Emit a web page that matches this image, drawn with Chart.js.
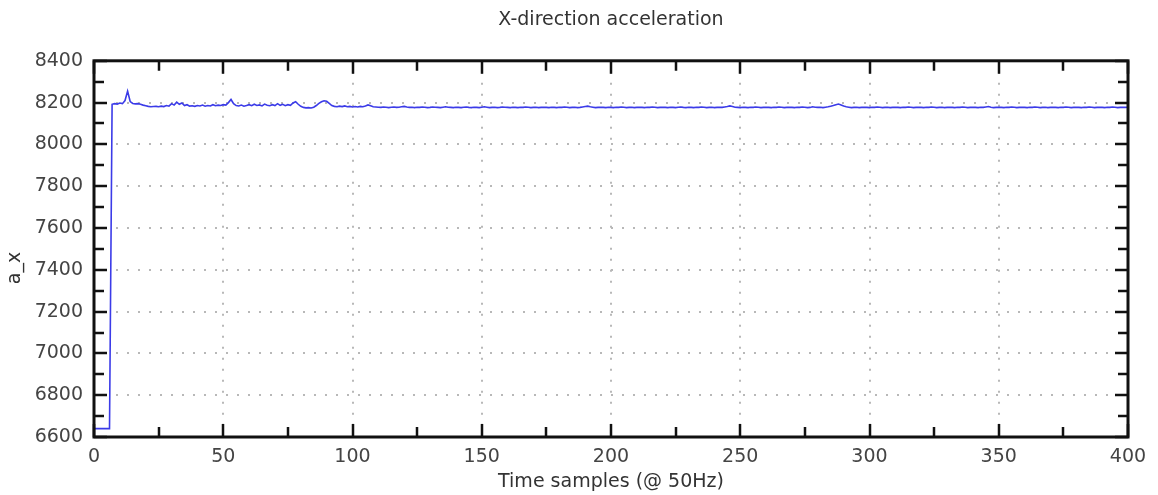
<!DOCTYPE html>
<html><head><meta charset="utf-8">
<script src="https://cdn.jsdelivr.net/npm/chart.js@4/dist/chart.umd.min.js"></script>
<style>html,body{margin:0;padding:0;background:#fff}#wrap{width:1158px;height:495px;position:relative}</style>
</head><body><div id="wrap"><canvas id="c" width="1158" height="495"></canvas></div>
<script>
const titleText = 'X-direction acceleration';
const xTitle = 'Time samples (@ 50Hz)';
const yTitle = 'a_x';
const xTicks = [0, 50, 100, 150, 200, 250, 300, 350, 400];
const yTicks = [6600, 6800, 7000, 7200, 7400, 7600, 7800, 8000, 8200, 8400];
const aX = [
6640,6640,6640,6640,6640,6640,6640,8192,8195,8193,8198,8195,8210,8255,8205,8196,8194,8195,8192,8188,
8185,8182,8180,8181,8182,8180,8183,8181,8186,8183,8195,8188,8202,8192,8198,8186,8190,8183,8185,8182,
8186,8184,8188,8183,8186,8184,8190,8185,8188,8186,8190,8188,8200,8215,8195,8186,8184,8188,8183,8186,
8190,8185,8192,8186,8189,8184,8193,8187,8185,8190,8186,8195,8187,8192,8185,8190,8187,8198,8204,8192,
8182,8177,8175,8176,8174,8178,8186,8196,8204,8209,8206,8196,8186,8182,8180,8183,8181,8184,8180,8182,
8179,8181,8179,8182,8180,8184,8189,8185,8180,8179,8178,8177,8179,8178,8176,8178,8179,8177,8178,8180,
8182,8179,8177,8178,8176,8178,8177,8179,8178,8176,8177,8179,8178,8177,8176,8178,8180,8178,8177,8176,
8178,8177,8176,8178,8179,8177,8176,8178,8177,8176,8178,8180,8178,8176,8177,8178,8176,8177,8179,8178,
8177,8176,8178,8177,8176,8178,8177,8179,8178,8176,8177,8178,8176,8177,8178,8177,8176,8178,8177,8176,
8178,8177,8179,8178,8176,8177,8178,8176,8177,8179,8181,8183,8180,8178,8176,8177,8178,8177,8176,8178,
8177,8176,8178,8177,8179,8178,8176,8177,8178,8176,8177,8178,8177,8176,8178,8177,8179,8178,8176,8177,
8178,8177,8176,8178,8177,8176,8178,8179,8177,8176,8178,8177,8176,8178,8177,8179,8178,8176,8177,8178,
8176,8177,8178,8177,8179,8181,8184,8181,8178,8177,8176,8178,8177,8176,8178,8177,8179,8178,8176,8177,
8178,8177,8176,8178,8177,8179,8178,8176,8177,8178,8177,8176,8178,8177,8179,8178,8176,8177,8180,8178,
8177,8178,8176,8178,8180,8183,8186,8190,8193,8189,8184,8180,8178,8176,8177,8178,8176,8177,8178,8177,
8176,8178,8177,8179,8178,8176,8177,8178,8176,8177,8178,8177,8176,8178,8177,8179,8178,8176,8177,8178,
8177,8176,8178,8177,8179,8178,8176,8177,8178,8176,8177,8178,8177,8176,8178,8177,8179,8178,8176,8177,
8178,8177,8176,8178,8177,8179,8181,8178,8176,8177,8178,8177,8176,8178,8177,8179,8178,8176,8177,8178,
8177,8176,8178,8177,8179,8178,8176,8177,8178,8176,8177,8178,8177,8176,8178,8177,8179,8178,8176,8177,
8178,8177,8176,8178,8177,8179,8178,8176,8177,8178,8177,8176,8178,8177,8179,8178,8176,8177,8178,8177,
8178
];

const FONT = "'DejaVu Sans', Verdana, sans-serif";
const points = aX.map((v, i) => ({x: i, y: v}));

function marks(ticks) {
  const out = [];
  for (let i = 0; i < ticks.length; i++) {
    out.push({v: ticks[i], major: true});
    if (i < ticks.length - 1) out.push({v: (ticks[i] + ticks[i + 1]) / 2, major: false});
  }
  return out;
}

const framePlugin = {
  id: 'frame',
  afterDatasetsDraw(chart) {
    const {ctx, chartArea: a, scales: {x, y}} = chart;
    ctx.save();
    ctx.strokeStyle = '#111';
    ctx.lineWidth = 2.5;
    ctx.beginPath();
    marks(xTicks).forEach(m => {
      const px = Math.round(x.getPixelForValue(m.v));
      const len = m.major ? 13 : 10;
      ctx.moveTo(px, a.bottom); ctx.lineTo(px, a.bottom - len);
      ctx.moveTo(px, a.top); ctx.lineTo(px, a.top + len);
    });
    marks(yTicks).forEach(m => {
      const py = Math.round(y.getPixelForValue(m.v));
      const len = m.major ? 13 : 10;
      ctx.moveTo(a.left, py); ctx.lineTo(a.left + len, py);
      ctx.moveTo(a.right, py); ctx.lineTo(a.right - len, py);
    });
    ctx.stroke();
    ctx.lineWidth = 3;
    ctx.strokeRect(a.left, a.top, a.right - a.left, a.bottom - a.top);
    ctx.fillStyle = '#333';
    ctx.font = '19px ' + FONT;
    ctx.textAlign = 'center';
    ctx.textBaseline = 'middle';
    ctx.translate(15, 268);
    ctx.rotate(-Math.PI / 2);
    ctx.fillText(yTitle, 0, 0);
    ctx.restore();
  }
};

new Chart(document.getElementById('c'), {
  type: 'line',
  data: {
    datasets: [{
      data: points,
      borderColor: '#3b3be8',
      borderWidth: 1.6,
      pointRadius: 0,
      tension: 0,
      fill: false
    }]
  },
  options: {
    responsive: false,
    animation: false,
    devicePixelRatio: 1,
    layout: {padding: {left: 0, right: 30, top: 0, bottom: 0}},
    plugins: {
      legend: {display: false},
      tooltip: {enabled: false},
      title: {
        display: true,
        fullSize: false,
        text: titleText,
        color: '#333',
        font: {family: FONT, size: 19, weight: 'normal'},
        padding: {top: 9, bottom: 29}
      }
    },
    scales: {
      x: {
        type: 'linear',
        min: 0, max: 400,
        afterFit(s) { s.height = 58; },
        afterBuildTicks(s) { s.ticks = xTicks.map(v => ({value: v})); },
        ticks: {color: '#444', font: {family: FONT, size: 19}, padding: 9, maxRotation: 0,
                callback: v => String(v)},
        grid: {color: '#b8b8b8', lineWidth: 2, drawTicks: false},
        border: {display: false, dash: [2, 9]},
        title: {display: true, text: xTitle, color: '#333', font: {family: FONT, size: 19}, padding: {top: 0, bottom: 2}}
      },
      y: {
        type: 'linear',
        min: 6600, max: 8400,
        afterFit(s) { s.width = 94; },
        afterBuildTicks(s) { s.ticks = yTicks.map(v => ({value: v})); },
        ticks: {color: '#444', font: {family: FONT, size: 19}, padding: 11,
                callback: v => String(v)},
        grid: {color: '#b8b8b8', lineWidth: 2, drawTicks: false},
        border: {display: false, dash: [2, 9]}
      }
    }
  },
  plugins: [framePlugin]
});
</script>
</body></html>
